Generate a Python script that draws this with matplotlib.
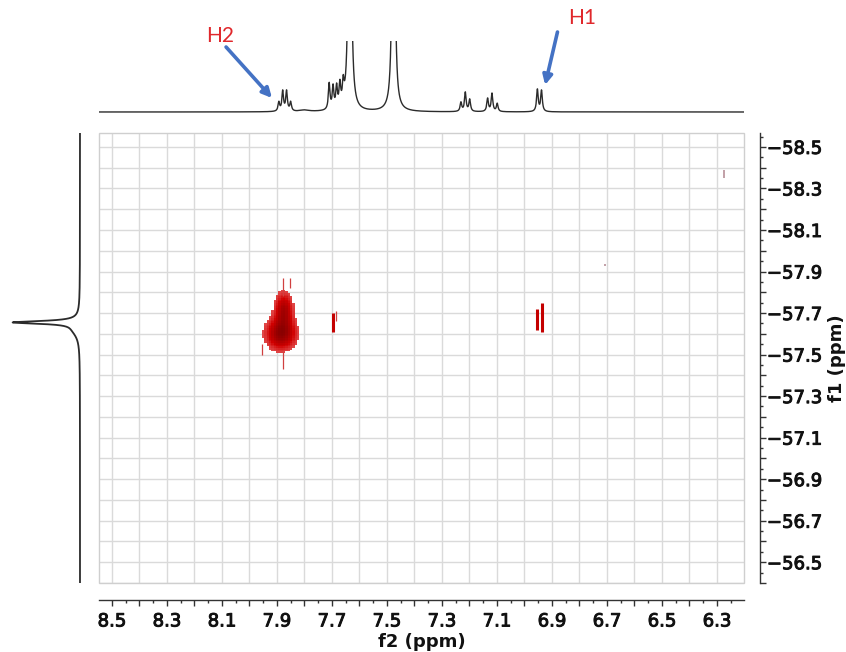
import numpy as np
import matplotlib
matplotlib.use('Agg')
import matplotlib.pyplot as plt
import matplotlib.patheffects as pe
from matplotlib.ticker import FixedLocator, FuncFormatter
from matplotlib.colors import LinearSegmentedColormap, Normalize
from matplotlib.patches import Rectangle

W, H, DPI = 846, 652, 100

# ---------------- data ----------------
# 1H projection (top trace): line positions (ppm), heights (px units), half-widths (ppm)
h_ppm = [7.893, 7.879, 7.865, 7.850, 7.800,
         7.710, 7.696, 7.683, 7.671, 7.659,
         7.635, 7.476,
         7.231, 7.215, 7.199,
         7.134, 7.118, 7.099,
         6.953, 6.938]
h_height = [9, 20, 20, 9, 1.5,
            26, 22, 21, 22, 20,
            600, 600,
            9, 19, 12,
            13, 18, 8,
            22, 21]
h_hw = [0.0035, 0.0035, 0.0035, 0.0035, 0.02,
        0.0035, 0.0035, 0.0035, 0.0035, 0.0035,
        0.0038, 0.0036,
        0.0035, 0.0035, 0.0035,
        0.0035, 0.0035, 0.0035,
        0.0035, 0.0035]

# 19F projection (left trace)
f_ppm = [-57.655, -57.620]
f_height = [64, 6]
f_hw = [0.008, 0.04]

# 2D cross-peak (H2 / CF3) body, Gaussian components
xp_f2 = [7.885, 7.875]
xp_f1 = [-57.60, -57.71]
xp_sf2 = [0.034, 0.021]
xp_sf1 = [0.047, 0.055]
xp_amp = [1.0, 0.8]

# narrow cross-peaks drawn as vertical bars: f2, f1 start, f1 end
peak_f2 = [6.955, 6.937, 7.695]
peak_f1a = [-57.72, -57.75, -57.70]
peak_f1b = [-57.62, -57.61, -57.61]

# thin t1-noise streaks
streak_f2 = [7.684, 7.878, 7.851, 7.878, 7.955]
streak_f1a = [-57.71, -57.87, -57.87, -57.51, -57.55]
streak_f1b = [-57.66, -57.78, -57.82, -57.43, -57.50]

# faint specks
speck_f2 = [6.276, 6.708]
speck_f1a = [-58.39, -57.937]
speck_f1b = [-58.35, -57.925]

# axes ticks / labels
x_labels = [8.5, 8.3, 8.1, 7.9, 7.7, 7.5, 7.3, 7.1, 6.9, 6.7, 6.5, 6.3]
y_labels = [-58.5, -58.3, -58.1, -57.9, -57.7, -57.5, -57.3, -57.1, -56.9, -56.7, -56.5]

# ---------------- figure ----------------
plt.rcParams['font.family'] = ['DejaVu Sans']
fig = plt.figure(figsize=(W / DPI, H / DPI), dpi=DPI)


def px_axes(x0, y0, x1, y1):
    return fig.add_axes([x0 / W, 1 - y1 / H, (x1 - x0) / W, (y1 - y0) / H])


XLIM = (8.547, 6.2018)
YLIM = (-56.40, -58.567)

# main 2D panel
ax = px_axes(99, 133, 744, 583)
ax.set_xlim(*XLIM)
ax.set_ylim(*YLIM)

xg = np.round(np.arange(8.5, 6.15, -0.1), 2)
yg = np.round(np.arange(-58.5, -56.35, 0.1), 2)
xm = np.round(np.arange(8.55, 6.15, -0.05), 3)
ym = np.round(np.arange(-58.55, -56.35, 0.05), 3)
ax.xaxis.set_major_locator(FixedLocator(xg))
ax.xaxis.set_minor_locator(FixedLocator(xm))
ax.yaxis.set_major_locator(FixedLocator(yg))
ax.yaxis.set_minor_locator(FixedLocator(ym))


def fmt_factory(labels):
    keys = {round(v, 1) for v in labels}

    def f(v, p):
        r = round(v, 1)
        if r in keys and abs(v - r) < 1e-6:
            return f'{r:.1f}'.replace('-', '\u2212')
        return ''
    return FuncFormatter(f)


ax.xaxis.set_major_formatter(fmt_factory(x_labels))
ax.yaxis.set_major_formatter(fmt_factory(y_labels))
ax.yaxis.tick_right()
ax.yaxis.set_label_position('right')

ax.grid(True, which='major', color='#DADADA', lw=1.0, zorder=0)
ax.set_axisbelow(True)

for s in ['top', 'left']:
    ax.spines[s].set_visible(False)
ax.spines['bottom'].set_position(('outward', 12.2))
ax.spines['right'].set_position(('outward', 11.5))
for s in ['bottom', 'right']:
    ax.spines[s].set_color('#333333')
    ax.spines[s].set_linewidth(1.0)
ax.add_patch(Rectangle((0, 0), 1, 1, transform=ax.transAxes, fill=False,
                       edgecolor='#CFCFCF', lw=1.0, clip_on=False, zorder=1))

ax.tick_params(axis='x', which='major', direction='out', length=4, width=1,
               color='#333333', labelsize=13, pad=5, labelcolor='#111111')
ax.tick_params(axis='x', which='minor', direction='out', length=2, width=1, color='#333333')
ax.tick_params(axis='y', which='major', direction='out', length=4, width=1,
               color='#333333', labelsize=13, pad=1, labelcolor='#111111')
ax.tick_params(axis='y', which='minor', direction='out', length=2, width=1, color='#333333')

bold_fx = [pe.withStroke(linewidth=0.7, foreground='#111111')]
for lab in ax.get_xticklabels() + ax.get_yticklabels():
    lab.set_path_effects(bold_fx)

ax.set_xlabel('f2 (ppm)', fontsize=13, fontweight='bold', color='#111111', labelpad=2)
ax.set_ylabel('f1 (ppm)', fontsize=13, fontweight='bold', color='#111111',
              rotation=90, labelpad=4)

# 2D cross peak body
g2 = np.arange(7.78, 8.00, 0.0085)
g1 = np.arange(-57.92, -57.40, 0.008)
G2, G1 = np.meshgrid(g2, g1)
Z = np.zeros_like(G2)
for c2, c1, s2, s1, a in zip(xp_f2, xp_f1, xp_sf2, xp_sf1, xp_amp):
    Z += a * np.exp(-0.5 * (((G2 - c2) / s2) ** 2 + ((G1 - c1) / s1) ** 2))
Zm = np.ma.masked_less(Z, 0.15)
cmap = LinearSegmentedColormap.from_list(
    'nmr', ['#E04848', '#D00000', '#AC0000', '#8E0000', '#7A0000'])
ax.pcolormesh(g2, g1, Zm, cmap=cmap, norm=Normalize(0.15, 1.35),
              shading='nearest', zorder=3)

ax.vlines(peak_f2, peak_f1a, peak_f1b, colors='#C40000', lw=2.2, zorder=4)
ax.vlines(streak_f2, streak_f1a, streak_f1b, colors='#D04040', lw=0.9, zorder=4)
ax.vlines(speck_f2, speck_f1a, speck_f1b, colors='#B89098', lw=1.2, zorder=4)

# top 1H projection
axt = px_axes(99, 41, 744, 120)
axt.set_xlim(*XLIM)
axt.set_ylim(-8, 71)
axt.axis('off')
xs = np.linspace(6.19, 8.56, 6000)
ys = np.zeros_like(xs)
for c, hgt, w in zip(h_ppm, h_height, h_hw):
    ys += hgt * w ** 2 / (w ** 2 + (xs - c) ** 2)
axt.plot(xs, ys, color='#2B2B2B', lw=1.0)

arrow_kw = dict(arrowstyle='-|>', color='#4472C4', lw=2.6, mutation_scale=14,
                shrinkA=0, shrinkB=0)
axt.annotate('', xy=(7.918, 14), xytext=(8.085, 65), arrowprops=arrow_kw,
             annotation_clip=False)
axt.annotate('', xy=(6.925, 27), xytext=(6.880, 80), arrowprops=arrow_kw,
             annotation_clip=False)
axt.text(8.107, 76, 'H2', color='#E0282C', fontsize=15, ha='center', va='center',
         family=['Lato', 'DejaVu Sans'], clip_on=False)
axt.text(6.790, 94, 'H1', color='#E0282C', fontsize=15, ha='center', va='center',
         family=['Lato', 'DejaVu Sans'], clip_on=False)

# left 19F projection
axs = px_axes(5, 133, 85, 583)
axs.set_ylim(*YLIM)
axs.set_xlim(75, -5)
axs.axis('off')
yy = np.linspace(-58.567, -56.40, 4000)
sv = np.zeros_like(yy)
for c, hgt, w in zip(f_ppm, f_height, f_hw):
    sv += hgt * w ** 2 / (w ** 2 + (yy - c) ** 2)
axs.plot(sv, yy, color='#2B2B2B', lw=1.3)

fig.savefig('out.png', dpi=DPI)
